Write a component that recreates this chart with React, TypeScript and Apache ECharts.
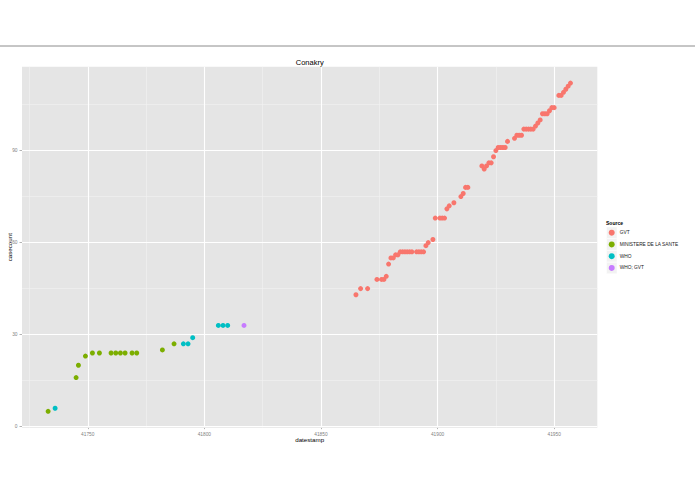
import { useEffect, useRef } from 'react';
import * as echarts from 'echarts';

// Conakry case counts by source (datestamp is an Excel-style day number)
const gvtDates = [
  41865, 41867, 41870, 41874, 41876, 41877, 41878, 41879, 41880, 41881, 41882, 41883,
  41884, 41885, 41886, 41887, 41888, 41889, 41891, 41892, 41893, 41894, 41895, 41896,
  41898, 41899, 41901, 41902, 41903, 41904, 41905, 41907, 41910, 41911, 41912, 41913,
  41919, 41920, 41921, 41922, 41923, 41924, 41925, 41926, 41927, 41928, 41929, 41930,
  41933, 41934, 41935, 41936, 41937, 41938, 41939, 41940, 41941, 41942, 41943, 41944,
  41945, 41946, 41947, 41948, 41949, 41950, 41952, 41953, 41954, 41955, 41956, 41957,
];
const gvtCases = [
  43, 45, 45, 48, 48, 48, 49, 53, 55, 55, 56, 56,
  57, 57, 57, 57, 57, 57, 57, 57, 57, 57, 59, 60,
  61, 68, 68, 68, 68, 71, 72, 73, 75, 76, 78, 78,
  85, 84, 85, 86, 86, 88, 90, 91, 91, 91, 91, 93,
  94, 95, 95, 95, 97, 97, 97, 97, 97, 98, 99, 100,
  102, 102, 102, 103, 104, 104, 108, 108, 109, 110, 111, 112,
];

const ministereDates = [
  41733, 41745, 41746, 41749, 41752, 41755, 41760, 41762, 41764, 41766, 41769, 41771, 41782, 41787,
];
const ministereCases = [5, 16, 20, 23, 24, 24, 24, 24, 24, 24, 24, 24, 25, 27];

const whoDates = [41736, 41791, 41793, 41795, 41806, 41808, 41810];
const whoCases = [6, 27, 27, 29, 33, 33, 33];

const whoGvtDates = [41817];
const whoGvtCases = [33];

const sourceNames = ['GVT', 'MINISTERE DE LA SANTE', 'WHO', 'WHO; GVT'];
const sourceColors = ['#F8766D', '#7CAE00', '#00BFC4', '#C77CFF'];

const xMajorTicks = [41750, 41800, 41850, 41900, 41950];
const xMinorTicks = [41725, 41775, 41825, 41875, 41925];
const yMajorTicks = [0, 30, 60, 90];
const yMinorTicks = [15, 45, 75, 105];

const FONT = '"Liberation Sans", Arial, Helvetica, sans-serif';

const pairs = (xs: number[], ys: number[]) => xs.map((x, i) => [x, ys[i]]);

export default function App() {
  const chartRef = useRef<HTMLDivElement>(null);

  useEffect(() => {
    if (!chartRef.current) return;
    const chart = echarts.init(chartRef.current, null, { renderer: 'svg' });

    const seriesData = [
      pairs(gvtDates, gvtCases),
      pairs(ministereDates, ministereCases),
      pairs(whoDates, whoCases),
      pairs(whoGvtDates, whoGvtCases),
    ];

    const major = { color: '#FFFFFF', width: 1.1, type: 'solid' as const };
    const minor = { color: '#F2F2F2', width: 0.6, type: 'solid' as const };

    const gridLines = [
      ...xMinorTicks.map(v => ({ xAxis: v, lineStyle: minor })),
      ...yMinorTicks.map(v => ({ yAxis: v, lineStyle: minor })),
      ...xMajorTicks.map(v => ({ xAxis: v, lineStyle: major })),
      ...yMajorTicks.map(v => ({ yAxis: v, lineStyle: major })),
    ];

    // key boxes behind the legend dots
    const keyBoxes = sourceNames.map((_, i) => ({
      type: 'rect',
      z: 0,
      shape: { x: 606.5, y: 227 + i * 11.75, width: 10.5, height: 11.5 },
      style: { fill: '#F2F2F2', stroke: '#FFFFFF', lineWidth: 0.5 },
    }));

    const option: echarts.EChartsOption = {
      animation: false,
      backgroundColor: '#FFFFFF',
      textStyle: { fontFamily: FONT },
      grid: {
        left: 22,
        top: 66.7,
        right: 97.7,
        bottom: 66.3,
        containLabel: false,
        outerBoundsMode: 'none',
        show: true,
        backgroundColor: '#E5E5E5',
        borderWidth: 0,
      } as any,
      graphic: [
        {
          type: 'line',
          shape: { x1: 0, y1: 46, x2: 695, y2: 46 },
          style: { stroke: '#8C8C8C', lineWidth: 1 },
        },
        {
          type: 'text',
          x: 309.7,
          y: 62.3,
          style: {
            text: 'Conakry',
            align: 'center',
            verticalAlign: 'middle',
            fontSize: 7.5,
            fontFamily: FONT,
            fill: '#000000',
          },
        },
        {
          type: 'text',
          x: 606,
          y: 223,
          style: {
            text: 'Source',
            align: 'left',
            verticalAlign: 'middle',
            fontSize: 5,
            fontWeight: 'bold',
            fontFamily: FONT,
            fill: '#000000',
          },
        },
        ...keyBoxes,
      ] as any,
      legend: {
        data: sourceNames,
        orient: 'vertical',
        left: 608.7,
        top: 229.7,
        icon: 'circle',
        itemWidth: 6,
        itemHeight: 6,
        itemGap: 5.75,
        padding: 0,
        selectedMode: false,
        textStyle: { fontSize: 4.8, lineHeight: 6, color: '#1A1A1A', fontFamily: FONT },
      },
      xAxis: {
        type: 'value',
        min: 41721.8,
        max: 41968.5,
        name: 'datestamp',
        nameLocation: 'middle',
        nameGap: 9,
        nameMoveOverlap: false,
        nameTextStyle: { fontSize: 6.2, color: '#000000', fontFamily: FONT },
        axisLine: { show: false },
        splitLine: { show: false },
        axisTick: {
          show: true,
          customValues: xMajorTicks,
          length: 2.5,
          lineStyle: { color: '#7F7F7F', width: 0.6 },
        },
        axisLabel: {
          customValues: xMajorTicks,
          formatter: (v: number) => String(v),
          fontSize: 4.8,
          color: '#7F7F7F',
          margin: 4,
          fontFamily: FONT,
        },
      } as any,
      yAxis: {
        type: 'value',
        min: -0.35,
        max: 117.35,
        name: 'casecount',
        nameLocation: 'middle',
        nameGap: 10,
        nameMoveOverlap: false,
        nameTextStyle: { fontSize: 6.2, color: '#000000', fontFamily: FONT },
        axisLine: { show: false },
        splitLine: { show: false },
        axisTick: {
          show: true,
          customValues: yMajorTicks,
          length: 2.5,
          lineStyle: { color: '#7F7F7F', width: 0.6 },
        },
        axisLabel: {
          customValues: yMajorTicks,
          formatter: (v: number) => String(v),
          fontSize: 4.8,
          color: '#7F7F7F',
          margin: 4.5,
          fontFamily: FONT,
        },
      } as any,
      series: [
        {
          name: 'grid',
          type: 'line',
          data: [],
          z: 1,
          silent: true,
          markLine: {
            z: 1,
            silent: true,
            symbol: ['none', 'none'],
            label: { show: false },
            emphasis: { disabled: true },
            data: gridLines as any,
          },
        },
        ...sourceNames.map((name, i) => ({
          name,
          type: 'scatter' as const,
          data: seriesData[i],
          symbol: 'circle',
          symbolSize: 5,
          z: 3,
          itemStyle: { color: sourceColors[i], opacity: 1 },
          emphasis: { disabled: true },
        })),
      ],
    };

    chart.setOption(option);

    return () => {
      chart.dispose();
    };
  }, []);

  return (
    <div
      ref={chartRef}
      style={{ position: 'fixed', left: 0, top: 0, width: 695, height: 494 }}
    />
  );
}
